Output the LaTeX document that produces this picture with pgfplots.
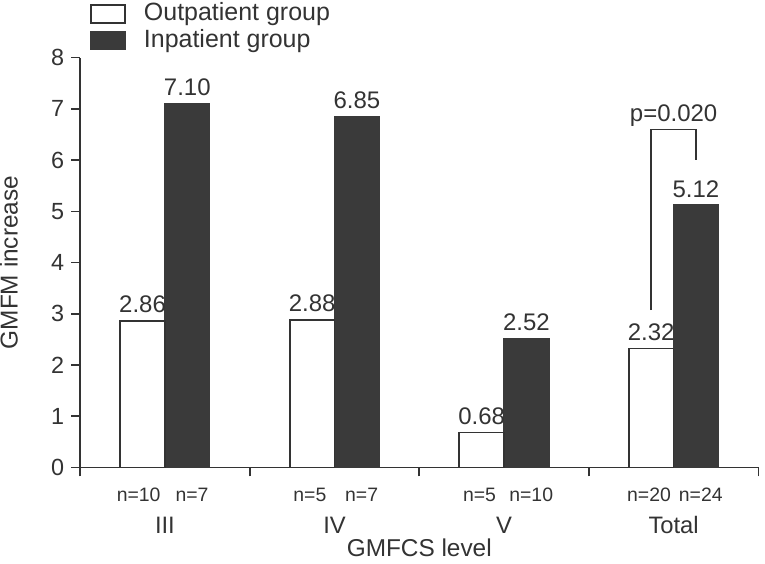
\documentclass[border=0pt]{standalone}
\usepackage{fontspec}
\setmainfont{Liberation Sans}
\usepackage{pgfplots}
\pgfplotsset{compat=1.18}
\definecolor{ink}{HTML}{333333}
\definecolor{barfill}{HTML}{3A3A3A}
\tikzset{
  sz/.style={font=\fontsize{9.8}{11}\selectfont, text=ink, anchor=base, yshift=-17bp},
  grp/.style={font=\fontsize{12}{14}\selectfont, text=ink, anchor=base, yshift=-33bp},
}
\begin{document}
\begin{tikzpicture}
\begin{axis}[
  scale only axis, width=341bp, height=206bp,
  xmin=-0.5, xmax=3.5, ymin=0, ymax=8,
  axis x line*=bottom, axis y line*=left,
  axis line style={ink, line width=0.8bp},
  xtick={-0.5,0.5,1.5,2.5,3.5}, xticklabels={},
  ytick={0,...,8},
  tick align=outside, major tick length=4.5bp,
  tick style={ink, line width=0.8bp},
  every tick label/.append style={font=\fontsize{11.8}{13}\selectfont, text=ink},
  /pgf/number format/assume math mode=true,
  ylabel={GMFM increase},
  ylabel style={font=\fontsize{12.3}{14}\selectfont, text=ink, inner sep=0pt,
    at={(rel axis cs:-0.105,0.5)}, anchor=center},
  clip=false,
  reverse legend,
  legend style={at={(0.0146,1.136)}, anchor=north west, draw=none, fill=none,
    inner sep=0pt, row sep=2.8bp, font=\fontsize{12.6}{14}\selectfont, text=ink,
    nodes={inner sep=0pt}},
  legend cell align=left,
  legend image code/.code={%
    \path[draw=none, fill=none] (0bp,0bp) -- (26.5bp,0bp);
    \draw[#1, line width=0.8bp] (0bp,-5bp) rectangle (17bp,4bp);},
  every node near coord/.append style={anchor=base, yshift=4bp},
]
\addplot[ybar, bar width=0.264, bar shift=0.132, fill=barfill, draw=barfill, line width=0.8bp,
  nodes near coords,
  nodes near coords style={font=\fontsize{12.1}{14}\selectfont, text=ink, xshift=11.25bp,
    /pgf/number format/.cd, fixed, fixed zerofill, precision=2}]
  coordinates {(0,7.10) (1,6.85) (2,2.52) (3,5.12)};
\addlegendentry{Inpatient group}
\addplot[ybar, bar width=0.264, bar shift=-0.132, fill=white, draw=ink, line width=0.8bp,
  nodes near coords,
  nodes near coords style={font=\fontsize{12.1}{14}\selectfont, text=ink, xshift=-11.25bp,
    /pgf/number format/.cd, fixed, fixed zerofill, precision=2}]
  coordinates {(0,2.86) (1,2.88) (2,0.68) (3,2.32)};
\addlegendentry{Outpatient group}
% significance bracket
\addplot[ink, line width=0.8bp, mark=none, forget plot]
  coordinates {(2.867,3.07) (2.867,6.6) (3.133,6.6) (3.133,6.0)};
\node[anchor=base, font=\fontsize{12.1}{14}\selectfont, text=ink] at (axis cs:3,6.76) {p=0.020};
% sample sizes
\node[sz] at (axis cs:-0.155,0) {n=10};
\node[sz] at (axis cs:0.16,0) {n=7};
\node[sz] at (axis cs:0.855,0) {n=5};
\node[sz] at (axis cs:1.16,0) {n=7};
\node[sz] at (axis cs:1.855,0) {n=5};
\node[sz] at (axis cs:2.16,0) {n=10};
\node[sz] at (axis cs:2.855,0) {n=20};
\node[sz] at (axis cs:3.16,0) {n=24};
% group names
\node[grp] at (axis cs:0,0) {III};
\node[grp] at (axis cs:1,0) {IV};
\node[grp] at (axis cs:2,0) {V};
\node[grp] at (axis cs:3,0) {Total};
\node[font=\fontsize{12.3}{14}\selectfont, text=ink, anchor=base, yshift=-44.8bp] at (axis cs:1.5,0) {GMFCS level};
\path (rel axis cs:0,0) ++(-40bp,-48bp) (rel axis cs:1,1) ++(1.5bp,29bp);
\end{axis}
\end{tikzpicture}
\end{document}
